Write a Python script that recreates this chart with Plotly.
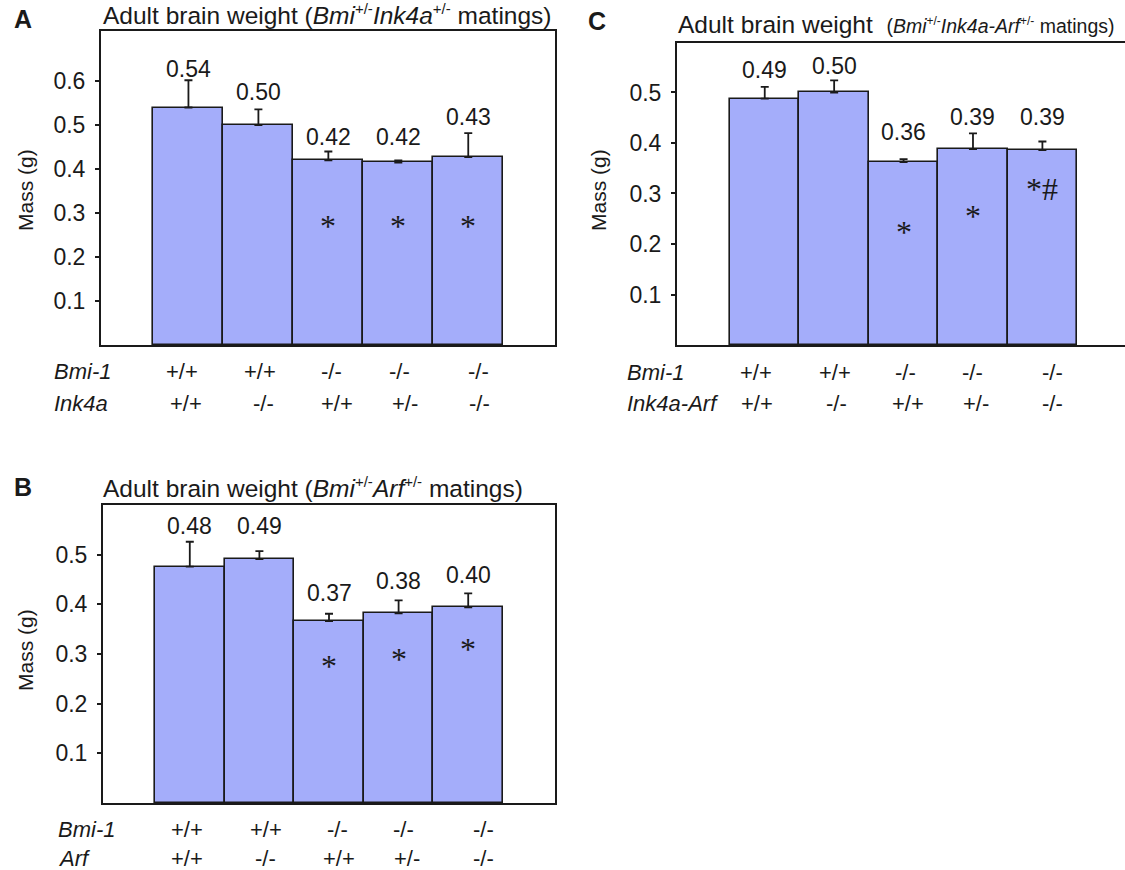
import plotly.graph_objects as go

W, H = 1125, 870

# ---------------- data ----------------
a_mean = [0.54, 0.50, 0.42, 0.415, 0.427]
a_err = [0.062, 0.036, 0.020, 0.005, 0.055]
a_text = ["0.54", "0.50", "0.42", "0.42", "0.43"]
a_sig = ["", "", "*", "*", "*"]
a_row1 = ["+/+", "+/+", "-/-", "-/-", "-/-"]
a_row2 = ["+/+", "-/-", "+/+", "+/-", "-/-"]
a_rownames = ["Bmi-1", "Ink4a"]

b_mean = [0.476, 0.491, 0.366, 0.382, 0.394]
b_err = [0.050, 0.016, 0.015, 0.026, 0.028]
b_text = ["0.48", "0.49", "0.37", "0.38", "0.40"]
b_sig = ["", "", "*", "*", "*"]
b_row1 = ["+/+", "+/+", "-/-", "-/-", "-/-"]
b_row2 = ["+/+", "-/-", "+/+", "+/-", "-/-"]
b_rownames = ["Bmi-1", "Arf"]

c_mean = [0.488, 0.500, 0.362, 0.388, 0.386]
c_err = [0.023, 0.024, 0.006, 0.031, 0.017]
c_text = ["0.49", "0.50", "0.36", "0.39", "0.39"]
c_sig = ["", "", "*", "*", "*#"]
c_row1 = ["+/+", "+/+", "-/-", "-/-", "-/-"]
c_row2 = ["+/+", "-/-", "+/+", "+/-", "-/-"]
c_rownames = ["Bmi-1", "Ink4a-Arf"]

a_ticks = [0.1, 0.2, 0.3, 0.4, 0.5, 0.6]
b_ticks = [0.1, 0.2, 0.3, 0.4, 0.5]
c_ticks = [0.1, 0.2, 0.3, 0.4, 0.5]

# ---------------- style / layout positions ----------------
BAR = "#a4adfa"
INK = "#1a1a1a"
SANS = "Liberation Sans, Arial, sans-serif"
SERIF = "Liberation Serif, Times New Roman, serif"


def xp(px):
    return px / W


def yp(py):
    return 1 - py / H


def sup(s, size=15):
    return f"<sup><span style='font-size:{size}px'>{s}</span></sup>"


panels = [
    dict(key="A", mean=a_mean, err=a_err, text=a_text, sig=a_sig, rows=[a_row1, a_row2],
         rownames=a_rownames, ticks=a_ticks,
         dom_x=(101, 555), dom_y=(31, 345), xr=[-1.25, 5.24], yr=[0, 0.714], mirror_y=True,
         label_y=[0.628, 0.575, 0.473, 0.473, 0.519], sig_y=[0, 0, 0.28, 0.28, 0.28],
         off1=[-0.09, 0.03, 0.05, 0.02, 0.15], off2=[-0.04, 0.08, 0.12, 0.09, 0.16],
         row_py=(372, 403), rowname_px=52, ytitle=(25, 190),
         letter=(12, 19), title_px=101, title_py=31,
         title="Adult brain weight (<i>Bmi</i>" + sup("+/-") + "<i>Ink4a</i>" + sup("+/-") + " matings)"),
    dict(key="B", mean=b_mean, err=b_err, text=b_text, sig=b_sig, rows=[b_row1, b_row2],
         rownames=b_rownames, ticks=b_ticks,
         dom_x=(103, 555), dom_y=(505, 803), xr=[-1.247, 5.247], yr=[0, 0.6], mirror_y=True,
         label_y=[0.558, 0.558, 0.422, 0.447, 0.459], sig_y=[0, 0, 0.284, 0.299, 0.318],
         off1=[-0.04, 0.09, 0.12, 0.07, 0.22], off2=[-0.04, 0.09, 0.14, 0.12, 0.22],
         row_py=(829, 858), rowname_px=56, ytitle=(25, 650),
         letter=(12, 487), title_px=101, title_py=504,
         title="Adult brain weight (<i>Bmi</i>" + sup("+/-") + "<i>Arf</i>" + sup("+/-") + " matings)"),
    dict(key="C", mean=c_mean, err=c_err, text=c_text, sig=c_sig, rows=[c_row1, c_row2],
         rownames=c_rownames, ticks=c_ticks,
         dom_x=(677, 1125), dom_y=(43, 345), xr=[-1.264, 5.19], yr=[0, 0.598], mirror_y=False,
         label_y=[0.545, 0.552, 0.421, 0.451, 0.451], sig_y=[0, 0, 0.232, 0.264, 0.317],
         off1=[-0.13, 0.01, 0.03, -0.01, 0.15], off2=[-0.11, 0.04, 0.07, 0.05, 0.15],
         row_py=(373, 404), rowname_px=625, ytitle=(598, 190),
         letter=(586, 21), title_px=676, title_py=40,
         title="Adult brain weight  <span style='font-size:19.5px'>(<i>Bmi</i>" + sup("+/-", 12)
               + "<i>Ink4a-Arf</i>" + sup("+/-", 12) + " matings)</span>"),
]

fig = go.Figure()
annotations = []
layout_axes = {}

for i, p in enumerate(panels):
    n = "" if i == 0 else str(i + 1)
    xa, ya = "x" + n, "y" + n
    xs = list(range(len(p["mean"])))
    fig.add_trace(go.Bar(
        x=xs, y=p["mean"], width=1, xaxis=xa, yaxis=ya,
        marker=dict(color=BAR, line=dict(color=INK, width=1.6)),
        error_y=dict(type="data", array=p["err"], arrayminus=[0] * len(xs), symmetric=False,
                     color=INK, thickness=1.8, width=4),
        showlegend=False, hoverinfo="skip",
    ))
    layout_axes["xaxis" + n] = dict(
        domain=[xp(p["dom_x"][0]), xp(p["dom_x"][1])], range=p["xr"], anchor=ya,
        showticklabels=False, ticks="", showgrid=False, zeroline=False,
        showline=True, linecolor=INK, linewidth=2, mirror=True,
    )
    layout_axes["yaxis" + n] = dict(
        domain=[yp(p["dom_y"][1]), yp(p["dom_y"][0])], range=p["yr"], anchor=xa,
        tickvals=p["ticks"], ticktext=[f"{t:.1f}" for t in p["ticks"]],
        ticks="outside", ticklen=4, tickwidth=1.5, tickcolor=INK,
        tickfont=dict(family=SANS, size=23, color=INK), ticklabelstandoff=5,
        showgrid=False, zeroline=False,
        showline=True, linecolor=INK, linewidth=2, mirror=p["mirror_y"],
    )
    # overlay axis giving the inner half of each crossing tick
    m = str(i + 4)
    layout_axes["yaxis" + m] = dict(
        overlaying=ya, anchor=xa, side="left", range=p["yr"],
        tickvals=p["ticks"], showticklabels=False,
        ticks="inside", ticklen=4, tickwidth=1.5, tickcolor=INK,
        showgrid=False, zeroline=False, showline=False,
    )
    # value labels
    for k in xs:
        annotations.append(dict(x=k, y=p["label_y"][k], xref=xa, yref=ya, text=p["text"][k],
                                showarrow=False, xanchor="center", yanchor="middle",
                                font=dict(family=SANS, size=23, color=INK)))
        if p["sig"][k]:
            annotations.append(dict(x=k, y=p["sig_y"][k], xref=xa, yref=ya, text=p["sig"][k],
                                    showarrow=False, xanchor="center", yanchor="middle",
                                    yshift=-4,
                                    font=dict(family=SERIF, size=32, color=INK)))
    # genotype rows
    for r, (row, off) in enumerate(zip(p["rows"], [p["off1"], p["off2"]])):
        for k in xs:
            annotations.append(dict(x=k + off[k], y=yp(p["row_py"][r]), xref=xa, yref="paper",
                                    text=row[k], showarrow=False, xanchor="center",
                                    yanchor="middle",
                                    font=dict(family=SANS, size=22, color=INK)))
        annotations.append(dict(x=xp(p["rowname_px"]), y=yp(p["row_py"][r]), xref="paper",
                                yref="paper", text="<i>" + p["rownames"][r] + "</i>",
                                showarrow=False, xanchor="left", yanchor="middle",
                                font=dict(family=SANS, size=22, color=INK)))
    # y title
    annotations.append(dict(x=xp(p["ytitle"][0]), y=yp(p["ytitle"][1]), xref="paper", yref="paper",
                            text="Mass (g)", textangle=-90, showarrow=False,
                            xanchor="center", yanchor="middle",
                            font=dict(family=SANS, size=21, color=INK)))
    # panel letter
    annotations.append(dict(x=xp(p["letter"][0]), y=yp(p["letter"][1]), xref="paper", yref="paper",
                            text="<b>" + p["key"] + "</b>", showarrow=False,
                            xanchor="left", yanchor="middle",
                            font=dict(family=SANS, size=25, color=INK)))
    # panel title
    annotations.append(dict(x=xp(p["title_px"]), y=yp(p["title_py"]), xref="paper", yref="paper",
                            text=p["title"], showarrow=False, xanchor="left", yanchor="bottom",
                            font=dict(family=SANS, size=24.5, color=INK)))

fig.update_layout(
    width=W, height=H, margin=dict(l=0, r=0, t=0, b=0),
    paper_bgcolor="white", plot_bgcolor="white",
    bargap=0, annotations=annotations, **layout_axes,
)

fig.write_html("out.html")
